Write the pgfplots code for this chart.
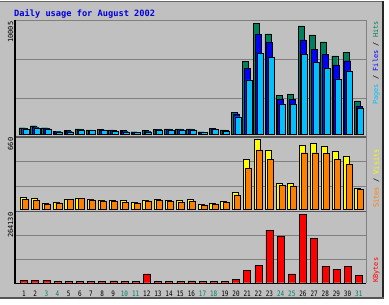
\documentclass[border=0pt]{standalone}
\usepackage{fontspec}
\setmainfont{Liberation Sans}
\newfontfamily\monofont{DejaVu Sans Mono}
\usepackage{graphicx}
\usepackage{pgfplots}
\pgfplotsset{compat=1.18}
\usepackage{pgfplotstable}
\definecolor{bg}{HTML}{C0C0C0}
\definecolor{hits}{HTML}{00805C}
\definecolor{files}{HTML}{0000FF}
\definecolor{pages}{HTML}{00C0FF}
\definecolor{visits}{HTML}{FFFF00}
\definecolor{sites}{HTML}{FF8000}
\definecolor{kbytes}{HTML}{FF0000}
\definecolor{wkend}{HTML}{00806C}
\definecolor{gridc}{HTML}{808080}
\definecolor{sepc}{HTML}{555555}
\definecolor{titleblue}{HTML}{0000E0}
\newcommand\dl[1]{\scalebox{0.8}[1]{#1}}
\newcommand\wl[1]{\scalebox{0.8}[1]{\color{wkend}#1}}
\pgfplotstableread{
day hits files pages
1 595 523 478
2 775 676 595
3 595 523 478
4 297 270 234
5 325 270 234
6 478 433 388
7 388 361 325
8 451 406 325
9 388 343 297
10 325 288 234
11 234 207 180
12 325 288 234
13 451 415 388
14 478 433 388
15 478 433 388
16 478 433 388
17 234 207 180
18 541 487 433
19 388 343 297
20 1983 1830 1586
21 6580 5949 4895
22 10005 9014 7301
23 9041 8257 6905
24 3542 3182 2704
25 3606 3155 2704
26 9762 8500 7211
27 8951 7662 6490
28 8320 7238 5949
29 7058 6247 4985
30 7391 6634 5706
31 3002 2551 2344
}\toptable
\pgfplotstableread{
day visits sites
1 107 92
2 101 79
3 54 47
4 60 57
5 95 88
6 104 98
7 92 85
8 85 76
9 79 69
10 79 66
11 66 57
12 85 76
13 92 79
14 82 69
15 79 66
16 88 76
17 45 38
18 51 45
19 76 66
20 158 133
21 471 388
22 660 559
23 559 471
24 243 227
25 243 218
26 600 533
27 622 533
28 597 527
29 543 471
30 502 426
31 196 187
}\midtable
\pgfplotstableread{
day kbytes
1 9300
2 9300
3 9300
4 4000
5 4000
6 4000
7 4000
8 4000
9 7500
10 4000
11 4000
12 33600
13 4000
14 4000
15 4000
16 7500
17 4000
18 6500
19 4000
20 14290
21 49040
22 67190
23 203500
24 180340
25 33600
26 264130
27 171460
28 64490
29 52900
30 64490
31 28580
}\bottable
\pgfplotsset{panel/.style={scale only axis, width=351bp, xmin=0.19, xmax=31.65,
  axis line style={draw=none}, xtick=\empty, ytick=\empty, clip=false,
  major tick length=0pt, anchor=south west}}
\begin{document}
\begin{tikzpicture}[x=1bp,y=1bp]
\useasboundingbox (0,0) rectangle (389,305);
\fill[white] (0,0) rectangle (389,305);
\fill[bg] (0,6.7) rectangle (383,303.5);
\draw[gridc!80!black, line width=1.4bp] (0,303.3) -- (383.5,303.3);
\draw[black!85, line width=2.2bp] (383,304) -- (383,5.6);
\draw[sepc, line width=1.8bp] (0,6.6) -- (384,6.6);
% title
\node[anchor=base west, inner sep=0, text=titleblue, font=\monofont\bfseries\fontsize{8.7}{9}\selectfont] at (14,288.7) {Daily usage for August 2002};
% grid and frame
\foreach \yy in {246,207,143.2,118.3,69.5,45.5}
  \draw[gridc, line width=0.9bp] (15,\yy) -- (366,\yy);
\draw[gridc, line width=0.9bp] (15,285) -- (366,285) -- (366,21.5);
\draw[sepc, line width=1.3bp] (15,168) -- (366,168);
\draw[sepc, line width=1.3bp] (15,93.5) -- (366,93.5);
% top panel
\begin{axis}[panel, at={(15bp,168bp)}, height=117bp, ymin=-243, ymax=10303]
\addplot[ybar, bar width=6bp, bar shift=-1.7bp, fill=hits, draw=black, line width=0.4bp] table[x=day,y=hits]{\toptable};
\addplot[ybar, bar width=6bp, bar shift=0bp, fill=files, draw=black, line width=0.4bp] table[x=day,y=files]{\toptable};
\addplot[ybar, bar width=6bp, bar shift=1.7bp, fill=pages, draw=black, line width=0.4bp] table[x=day,y=pages]{\toptable};
\end{axis}
% middle panel
\begin{axis}[panel, at={(15bp,93.5bp)}, height=74.5bp, ymin=-24, ymax=682]
\addplot[ybar, bar width=6bp, bar shift=-1.2bp, fill=visits, draw=black, line width=0.4bp] table[x=day,y=visits]{\midtable};
\addplot[ybar, bar width=6bp, bar shift=1.2bp, fill=sites, draw=black, line width=0.4bp] table[x=day,y=sites]{\midtable};
\end{axis}
% bottom panel
\begin{axis}[panel, at={(15bp,21.5bp)}, height=72bp, ymin=-3090, ymax=274950,
  xtick={1,...,31},
  xticklabels={\dl{1},\dl{2},\wl{3},\wl{4},\dl{5},\dl{6},\dl{7},\dl{8},\dl{9},\wl{10},\wl{11},\dl{12},\dl{13},\dl{14},\dl{15},\dl{16},\wl{17},\wl{18},\dl{19},\dl{20},\dl{21},\dl{22},\dl{23},\wl{24},\wl{25},\dl{26},\dl{27},\dl{28},\dl{29},\dl{30},\wl{31}},
  xticklabel style={anchor=north, inner sep=0pt, yshift=-7bp, font=\monofont\fontsize{7.5}{7.5}\selectfont}]
\addplot[ybar, bar width=7bp, bar shift=0bp, fill=kbytes, draw=black, line width=0.4bp] table[x=day,y=kbytes]{\bottable};
\end{axis}
% axis lines
\draw[black, line width=1.1bp] (15,285) -- (15,21.5) -- (366,21.5);
% left scale labels
\node[rotate=90, anchor=east, inner sep=0, font=\monofont\fontsize{7}{7}\selectfont] at (10.5,283.5) {10005};
\node[rotate=90, anchor=east, inner sep=0, font=\monofont\fontsize{7}{7}\selectfont] at (10.5,167.5) {660};
\node[rotate=90, anchor=east, inner sep=0, font=\monofont\fontsize{7}{7}\selectfont] at (10.5,92.5) {264130};
% right legend labels
\node[rotate=90, anchor=west, inner sep=0, font=\monofont\fontsize{7}{7}\selectfont] at (376.3,200) {\textcolor{pages}{Pages} / \textcolor{files}{Files} / \textcolor{hits}{Hits}};
\node[rotate=90, anchor=west, inner sep=0, font=\monofont\fontsize{7}{7}\selectfont] at (376.3,97) {\textcolor{sites}{Sites} / \textcolor{visits}{Visits}};
\node[rotate=90, anchor=west, inner sep=0, font=\monofont\fontsize{7}{7}\selectfont] at (376.3,22) {\textcolor{kbytes}{KBytes}};
\end{tikzpicture}
\end{document}
